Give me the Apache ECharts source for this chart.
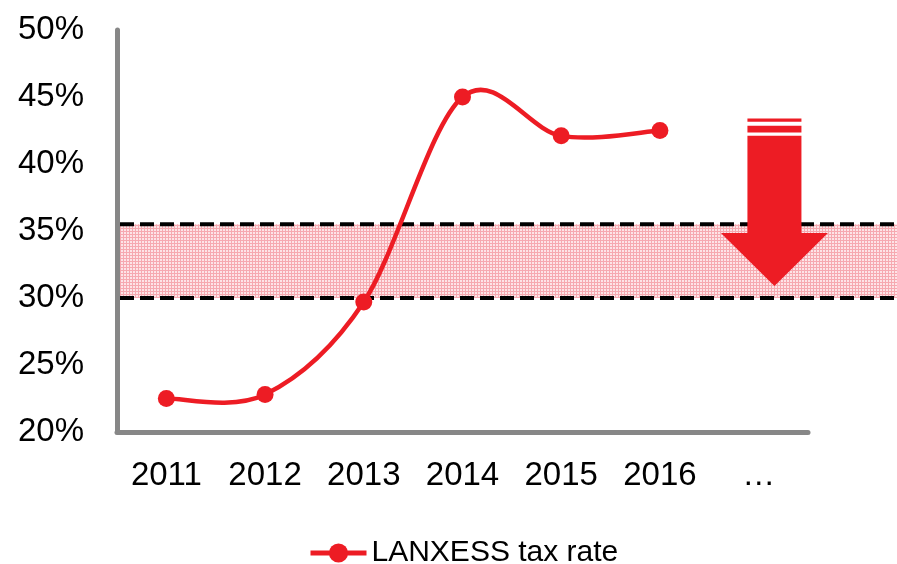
<!DOCTYPE html>
<html>
<head>
<meta charset="utf-8">
<script src="https://cdn.jsdelivr.net/npm/echarts@6/dist/echarts.min.js"></script>
<style>
  html, body { margin: 0; padding: 0; background: #fff; }
  #chart { width: 897px; height: 564px; }
</style>
</head>
<body>
<div id="chart"></div>
<script>
// Years on the category axis; the last slot is the open-ended outlook.
const categories = ['2011', '2012', '2013', '2014', '2015', '2016', '…'];
// Effective tax rate in percent.
const taxRate = [22.5, 22.8, 29.7, 45.0, 42.1, 42.5, null];
// Target corridor for the tax rate, in percent.
const targetBand = [30, 35.5];
// Value-axis range and step, in percent.
const yTicks = { min: 20, max: 50, step: 5 };

const RED = '#ED1C24';
const AXIS_GREY = '#878787';
const FONT = '"Liberation Sans", Arial, sans-serif';
const SERIES_NAME = 'LANXESS tax rate';

// Fine pink grid fill for the target corridor.
function gridPattern() {
  const c = document.createElement('canvas');
  c.width = 3; c.height = 3;
  const g = c.getContext('2d');
  g.fillStyle = '#fde4e7';
  g.fillRect(0, 0, 3, 3);
  g.fillStyle = '#f6a9b0';
  g.fillRect(0, 0, 3, 1);
  g.fillRect(0, 0, 1, 3);
  return c;
}

// Cardinal-spline segment between point i and i+1 (tangent = neighbour chord / 6).
function renderCurveSegment(params, api) {
  const i = params.dataIndex;
  const j = i + 1;
  if (j >= taxRate.length || taxRate[i] == null || taxRate[j] == null) return null;
  const pt = k => api.coord([k, taxRate[k]]);
  const valid = k => k >= 0 && k < taxRate.length && taxRate[k] != null;
  const p0 = pt(valid(i - 1) ? i - 1 : i);
  const p1 = pt(i);
  const p2 = pt(j);
  const p3 = pt(valid(j + 1) ? j + 1 : j);
  const c1 = [p1[0] + (p2[0] - p0[0]) / 6, p1[1] + (p2[1] - p0[1]) / 6];
  const c2 = [p2[0] - (p3[0] - p1[0]) / 6, p2[1] - (p3[1] - p1[1]) / 6];
  return {
    type: 'bezierCurve',
    shape: { x1: p1[0], y1: p1[1], x2: p2[0], y2: p2[1],
             cpx1: c1[0], cpy1: c1[1], cpx2: c2[0], cpy2: c2[1] },
    style: { stroke: RED, lineWidth: 4.5, fill: null, lineCap: 'round' },
    silent: true
  };
}

const chart = echarts.init(document.getElementById('chart'), null, { renderer: 'canvas' });

chart.setOption({
  animation: false,
  backgroundColor: '#fff',
  grid: { left: 117, right: 89, top: 30, bottom: 132, containLabel: false },
  legend: {
    data: [{ name: SERIES_NAME, lineStyle: { color: RED, width: 5, opacity: 1 } }],
    left: 303,
    top: 533,
    itemWidth: 56,
    itemHeight: 24,
    textStyle: { fontFamily: FONT, fontSize: 30, color: '#000' }
  },
  xAxis: {
    type: 'category',
    data: categories,
    boundaryGap: true,
    axisLine: { lineStyle: { color: AXIS_GREY, width: 5 } },
    axisTick: { show: false },
    axisLabel: { margin: 27, fontFamily: FONT, fontSize: 33, color: '#000' }
  },
  yAxis: {
    type: 'value',
    min: yTicks.min,
    max: yTicks.max,
    interval: yTicks.step,
    axisLine: { show: true, lineStyle: { color: AXIS_GREY, width: 5 } },
    axisTick: { show: false },
    splitLine: { show: false },
    axisLabel: { margin: 33, fontFamily: FONT, fontSize: 33, color: '#000', formatter: '{value}%' }
  },
  series: [
    {
      // Smoothed connecting curve through the yearly values.
      type: 'custom',
      name: 'curve',
      data: taxRate.map((v, i) => [i, v]),
      renderItem: renderCurveSegment,
      z: 4,
      silent: true
    },
    {
      // Yearly markers; the connecting line is drawn by the curve series.
      name: SERIES_NAME,
      type: 'line',
      data: taxRate,
      symbol: 'circle',
      symbolSize: 17,
      z: 5,
      lineStyle: { color: RED, width: 4, opacity: 0 },
      itemStyle: { color: RED }
    }
  ]
});

// Corridor band, its dashed edges and the downward arrow, placed from axis values.
function drawAnnotations() {
  const W = chart.getWidth();
  const yOf = v => chart.convertToPixel({ yAxisIndex: 0 }, v);
  const xOf = c => chart.convertToPixel({ xAxisIndex: 0 }, c);
  const step = xOf(categories[1]) - xOf(categories[0]);
  const left = xOf(categories[0]) - step / 2 + 3;
  const yLo = yOf(targetBand[0]);
  const yHi = yOf(targetBand[1]);

  const dash = { stroke: '#000', lineWidth: 4, lineDash: [14, 6] };

  // Arrow anchored on the outlook slot.
  const cx = xOf(categories[6]) + step * 0.16;
  const halfShaft = 27, halfHead = 53.5;
  const yTop = yOf(43.4), yHead = yOf(34.85), yTip = yOf(30.9);
  const s1a = yTop, s1b = yTop + 3.4, s2a = yTop + 7.4, s2b = yTop + 14, shaftTop = yTop + 17.4;

  chart.setOption({
    graphic: [
      { type: 'rect', z: 0, silent: true,
        shape: { x: left, y: yHi, width: W - left, height: yLo - yHi },
        style: { fill: { image: gridPattern(), repeat: 'repeat' } } },
      { type: 'line', z: 1, silent: true,
        shape: { x1: left, y1: yHi, x2: W, y2: yHi }, style: dash },
      { type: 'line', z: 1, silent: true,
        shape: { x1: left, y1: yLo, x2: W, y2: yLo }, style: dash },
      { type: 'rect', z: 2, silent: true,
        shape: { x: cx - halfShaft, y: s1a, width: halfShaft * 2, height: s1b - s1a },
        style: { fill: RED } },
      { type: 'rect', z: 2, silent: true,
        shape: { x: cx - halfShaft, y: s2a, width: halfShaft * 2, height: s2b - s2a },
        style: { fill: RED } },
      { type: 'polygon', z: 2, silent: true,
        shape: { points: [
          [cx - halfShaft, shaftTop], [cx + halfShaft, shaftTop],
          [cx + halfShaft, yHead], [cx + halfHead, yHead],
          [cx, yTip],
          [cx - halfHead, yHead], [cx - halfShaft, yHead]
        ] },
        style: { fill: RED } }
    ]
  });
}
drawAnnotations();
</script>
</body>
</html>
